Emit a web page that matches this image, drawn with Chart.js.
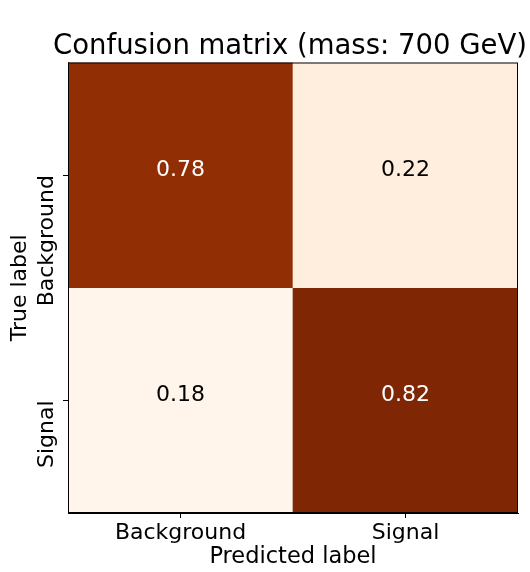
<!DOCTYPE html>
<html>
<head>
<meta charset="utf-8">
<script src="https://cdn.jsdelivr.net/npm/chart.js@4"></script>
<style>
  body { margin: 0; background: #fff; }
  canvas { display: block; }
</style>
</head>
<body>
<canvas id="cm" width="530" height="572"></canvas>
<script>
// ==================== DATOS ====================
const predictedLabels = ['Background', 'Signal'];
const trueLabels = ['Background', 'Signal'];
const rowBackground = [0.78, 0.22];
const rowSignal = [0.18, 0.82];
const matrix = [rowBackground, rowSignal];
const chartTitle = 'Confusion matrix (mass: 700 GeV)';

// Oranges (matplotlib / ColorBrewer)
const oranges = ['#fff5eb', '#fee6ce', '#fdd0a2', '#fdae6b', '#fd8d3c', '#f16913', '#d94801', '#a63603', '#7f2704'];

const allVals = matrix.flat();
const vMin = Math.min(...allVals);
const vMax = Math.max(...allVals);

function hexToRgb(h) {
    return [1, 3, 5].map(i => parseInt(h.substr(i, 2), 16));
}

function cmap(v) {
    const t = Math.max(0, Math.min(1, (v - vMin) / (vMax - vMin)));
    const pos = t * (oranges.length - 1);
    const i = Math.min(Math.floor(pos), oranges.length - 2);
    const f = pos - i;
    const a = hexToRgb(oranges[i]), b = hexToRgb(oranges[i + 1]);
    const c = a.map((x, k) => Math.round(x + (b[k] - x) * f));
    return `rgb(${c[0]},${c[1]},${c[2]})`;
}

const n = trueLabels.length;
const FONT = "'DejaVu Sans', sans-serif";

// una fila de la matriz = un dataset de barras flotantes
const datasets = matrix.map((row, i) => ({
    label: trueLabels[i],
    data: row.map(() => [n - 1 - i, n - i]),
    values: row,
    backgroundColor: row.map(cmap),
    borderWidth: 0,
    grouped: false,
    barPercentage: 1,
    categoryPercentage: 1
}));

// ==================== PLUGINS ====================
const cellText = {
    id: 'cellText',
    afterDatasetsDraw(chart) {
        const ctx = chart.ctx;
        ctx.save();
        ctx.font = `22px ${FONT}`;
        ctx.textAlign = 'center';
        ctx.textBaseline = 'alphabetic';
        chart.data.datasets.forEach((ds, i) => {
            chart.getDatasetMeta(i).data.forEach((el, j) => {
                const v = ds.values[j];
                const t = (v - vMin) / (vMax - vMin);
                ctx.fillStyle = t > 0.5 ? '#ffffff' : '#000000';
                ctx.fillText(v.toFixed(2), el.x, (el.y + el.base) / 2 + 0.5);
            });
        });
        ctx.restore();
    }
};

// marco, título (sin recorte de ancho) y etiquetas del eje Y giradas
const frameAndLabels = {
    id: 'frameAndLabels',
    afterDraw(chart) {
        const ctx = chart.ctx;
        const a = chart.chartArea;
        const y = chart.scales.y;
        ctx.save();
        ctx.strokeStyle = '#000';
        ctx.lineWidth = 1;
        ctx.strokeRect(a.left + 0.5, a.top + 0.5, a.right - a.left - 1, a.bottom - a.top - 1);

        ctx.fillStyle = '#000';
        ctx.font = `27.5px ${FONT}`;
        ctx.textAlign = 'center';
        ctx.textBaseline = 'alphabetic';
        ctx.fillText(chartTitle, (a.left + a.right) / 2 - 3, a.top - 9);

        ctx.font = `22px ${FONT}`;
        ctx.textAlign = 'right';
        trueLabels.forEach((lab, i) => {
            const py = y.getPixelForValue(n - 1 - i + 0.5);
            ctx.save();
            ctx.translate(a.left - 15, py);
            ctx.rotate(-Math.PI / 2);
            ctx.fillText(lab, 0, 0);
            ctx.restore();
        });
        ctx.restore();
    }
};

// ==================== GRÁFICO ====================
new Chart(document.getElementById('cm'), {
    type: 'bar',
    data: { labels: predictedLabels, datasets },
    options: {
        responsive: false,
        animation: false,
        layout: { padding: { top: 62.5, right: 12, bottom: 0, left: 0 } },
        plugins: {
            legend: { display: false },
            tooltip: { enabled: false },
            title: { display: false }
        },
        scales: {
            x: {
                offset: true,
                grid: { offset: false, drawOnChartArea: false, drawTicks: true, tickLength: 5, color: '#000' },
                border: { display: true, color: '#000', width: 1 },
                ticks: { color: '#000', font: { family: FONT, size: 22 }, padding: 2, maxRotation: 0 },
                title: {
                    display: true,
                    text: 'Predicted label',
                    color: '#000',
                    font: { family: FONT, size: 22.5 },
                    padding: { top: 0, bottom: 1 }
                },
                afterFit(s) { s.height = 59; }
            },
            y: {
                min: 0,
                max: n,
                afterBuildTicks(s) {
                    s.ticks = trueLabels.map((_, i) => ({ value: i + 0.5 }));
                },
                grid: { drawOnChartArea: false, drawTicks: true, tickLength: 5, color: '#000' },
                border: { display: true, color: '#000', width: 1 },
                ticks: { display: false },
                title: {
                    display: true,
                    text: 'True label',
                    color: '#000',
                    font: { family: FONT, size: 22 },
                    padding: { top: 7, bottom: 0 }
                },
                afterFit(s) { s.width = 68; }
            }
        }
    },
    plugins: [cellText, frameAndLabels]
});
</script>
</body>
</html>
